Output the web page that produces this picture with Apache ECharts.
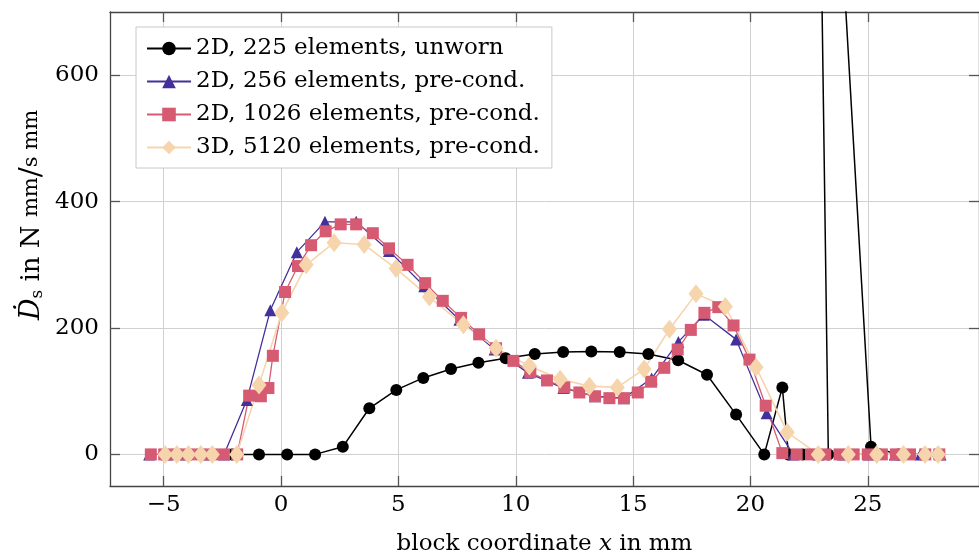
<!DOCTYPE html>
<html>
<head>
<meta charset="utf-8">
<script src="https://cdn.jsdelivr.net/npm/echarts@6/dist/echarts.min.js"></script>
<style>
  html, body { margin: 0; padding: 0; background: #fff; }
  #chart { width: 979px; height: 558px; }
</style>
</head>
<body>
<div id="chart"></div>
<script>
// series data: [x in mm, dissipation]
const unworn225 = [
  [-2.1, 0], [-0.94, 0], [0.26, 0], [1.45, 0], [2.63, 12], [3.76, 73], [4.91, 102],
  [6.06, 121], [7.24, 135], [8.41, 145], [9.57, 152], [10.81, 159], [12.02, 162],
  [13.22, 163], [14.43, 162], [15.65, 159], [16.92, 149], [18.15, 126], [19.39, 63],
  [20.59, 0], [21.36, 106], [21.62, 0], [22.24, 0], [23.32, 0], [22.73, 1560],
  [25.14, 12], [26.3, 0], [27.4, 0], [28.0, 0]
];
const pre256 = [
  [-5.62, 0], [-4.86, 0], [-4.05, 0], [-3.24, 0], [-2.43, 0], [-1.46, 86], [-0.46, 228],
  [0.67, 320], [1.87, 368], [3.2, 368], [4.6, 322], [6.1, 266], [7.6, 213], [9.1, 166],
  [10.52, 129], [12.03, 105], [13.38, 92], [14.6, 89], [15.79, 120], [16.93, 178],
  [18.02, 221], [19.39, 182], [20.69, 65], [21.83, 0], [22.9, 0], [23.95, 0],
  [25.05, 0], [26.15, 0], [27.25, 0], [28.1, 0]
];
const pre1026 = [
  [-5.55, 0], [-4.98, 0], [-4.47, 0], [-3.96, 0], [-3.45, 0], [-2.94, 0], [-2.43, 0],
  [-1.87, 0], [-1.36, 93], [-0.86, 92], [-0.54, 105], [-0.35, 156], [0.17, 257],
  [0.72, 298], [1.28, 331], [1.9, 353], [2.54, 364], [3.2, 364], [3.91, 350],
  [4.6, 326], [5.39, 300], [6.14, 271], [6.89, 243], [7.67, 216], [8.44, 190],
  [9.16, 168], [9.9, 148], [10.62, 130], [11.33, 117], [12.07, 106], [12.71, 98],
  [13.38, 92], [13.99, 89], [14.61, 89], [15.2, 98], [15.77, 115], [16.33, 137],
  [16.9, 166], [17.46, 197], [18.04, 224], [18.63, 233], [19.28, 204], [19.96, 150],
  [20.65, 77], [21.36, 2], [21.97, 0], [22.58, 0], [23.19, 0], [23.8, 0], [24.4, 0],
  [25.0, 0], [25.6, 0], [26.2, 0], [26.8, 0], [27.45, 0], [28.05, 0]
];
const pre5120 = [
  [-4.94, 0], [-4.44, 0], [-3.95, 0], [-3.42, 0], [-2.93, 0], [-1.89, 0], [-0.94, 110],
  [0.03, 224], [1.07, 300], [2.26, 335], [3.54, 332], [4.9, 294], [6.32, 249],
  [7.77, 205], [9.16, 168], [10.58, 140], [11.89, 119], [13.14, 108], [14.33, 106],
  [15.47, 135], [16.55, 198], [17.68, 254], [18.93, 234], [20.24, 138], [21.57, 35],
  [22.89, 0], [24.17, 0], [25.38, 0], [26.52, 0], [27.44, 0], [28.0, 0]
];
const seriesNames = [
  '2D, 225 elements, unworn',
  '2D, 256 elements, pre-cond.',
  '2D, 1026 elements, pre-cond.',
  '3D, 5120 elements, pre-cond.'
];
const xTicks = [-5, 0, 5, 10, 15, 20, 25];
const yTicks = [0, 200, 400, 600];

const FONT = 'DejaVu Serif';
const chart = echarts.init(document.getElementById('chart'));

const axisCommon = {
  axisLine: { show: true, onZero: false, lineStyle: { color: '#444', width: 1.3 } },
  axisTick: { show: true, inside: true, length: 10, lineStyle: { color: '#555', width: 1.3 } }
};

function mkSeries(name, data, color, symbol, size, width) {
  return {
    name: name,
    type: 'line',
    data: data,
    symbol: symbol,
    symbolSize: size,
    showAllSymbol: true,
    color: color,
    lineStyle: { color: color, width: width },
    itemStyle: { color: color },
    emphasis: { disabled: true },
    animation: false
  };
}

const option = {
  backgroundColor: '#fff',
  animation: false,
  grid: { left: 110, right: 0, top: 12, bottom: 72, outerBoundsMode: 'none', containLabel: false },
  legend: {
    orient: 'vertical',
    left: 136,
    top: 27,
    data: seriesNames,
    itemWidth: 44,
    itemHeight: 17,
    itemGap: 10,
    padding: [10, 12, 9, 10],
    backgroundColor: '#fff',
    borderColor: '#c8c8c8',
    borderWidth: 1,
    borderRadius: 0,
    textStyle: { fontFamily: FONT, fontSize: 23, color: '#000' }
  },
  xAxis: [{
    type: 'value',
    min: -7.29,
    max: 29.74,
    ...axisCommon,
    axisTick: { ...axisCommon.axisTick, customValues: xTicks },
    axisLabel: {
      customValues: xTicks,
      margin: 8,
      fontFamily: FONT, fontSize: 23, color: '#000',
      formatter: v => String(v).replace('-', '\u2212')
    },
    splitLine: { show: true, lineStyle: { color: '#d0d0d0', width: 1 } },
    name: '{t|block coordinate }{i|x}{t| in mm}',
    nameLocation: 'middle',
    nameGap: 47,
    nameTextStyle: {
      rich: {
        t: { fontFamily: FONT, fontSize: 23, color: '#000' },
        i: { fontFamily: FONT, fontSize: 23, fontStyle: 'italic', color: '#000' }
      }
    }
  }, {
    type: 'value',
    position: 'top',
    min: -7.29,
    max: 29.74,
    ...axisCommon,
    axisTick: { ...axisCommon.axisTick, customValues: xTicks },
    axisLabel: { show: false },
    splitLine: { show: false }
  }],
  yAxis: [{
    type: 'value',
    min: -50,
    max: 700,
    ...axisCommon,
    axisTick: { ...axisCommon.axisTick, customValues: yTicks },
    axisLabel: {
      customValues: yTicks,
      margin: 11,
      fontFamily: FONT, fontSize: 23, color: '#000'
    },
    splitLine: { show: true, lineStyle: { color: '#d0d0d0', width: 1 } }
  }, {
    type: 'value',
    position: 'right',
    min: -50,
    max: 700,
    ...axisCommon,
    axisTick: { ...axisCommon.axisTick, customValues: yTicks },
    axisLabel: { show: false },
    splitLine: { show: false }
  }],
  graphic: [{
    type: 'text',
    x: 32,
    y: 215,
    rotation: Math.PI / 2,
    style: {
      text: '{d|Ḋ}{s|s}{t| in N }{f|mm}{sl|/}{f|s mm}',
      align: 'center',
      verticalAlign: 'middle',
      rich: {
        d: { fontFamily: FONT, fontSize: 27, fontStyle: 'italic', fill: '#000' },
        s: { fontFamily: FONT, fontSize: 17, fill: '#000', padding: [12, 0, 0, 0] },
        t: { fontFamily: FONT, fontSize: 26, fill: '#000' },
        f: { fontFamily: FONT, fontSize: 21, fill: '#000' },
        sl: { fontFamily: FONT, fontSize: 30, fill: '#000' }
      }
    }
  }],
  series: [
    mkSeries(seriesNames[0], unworn225, '#000000', 'circle', 12, 1.5),
    mkSeries(seriesNames[1], pre256, '#44309b', 'triangle', 12, 1.3),
    mkSeries(seriesNames[2], pre1026, '#d65a72', 'rect', 12, 1.3),
    mkSeries(seriesNames[3], pre5120, '#f6d5ad', 'diamond', [15, 19], 1.6)
  ]
};

chart.setOption(option);
</script>
</body>
</html>
